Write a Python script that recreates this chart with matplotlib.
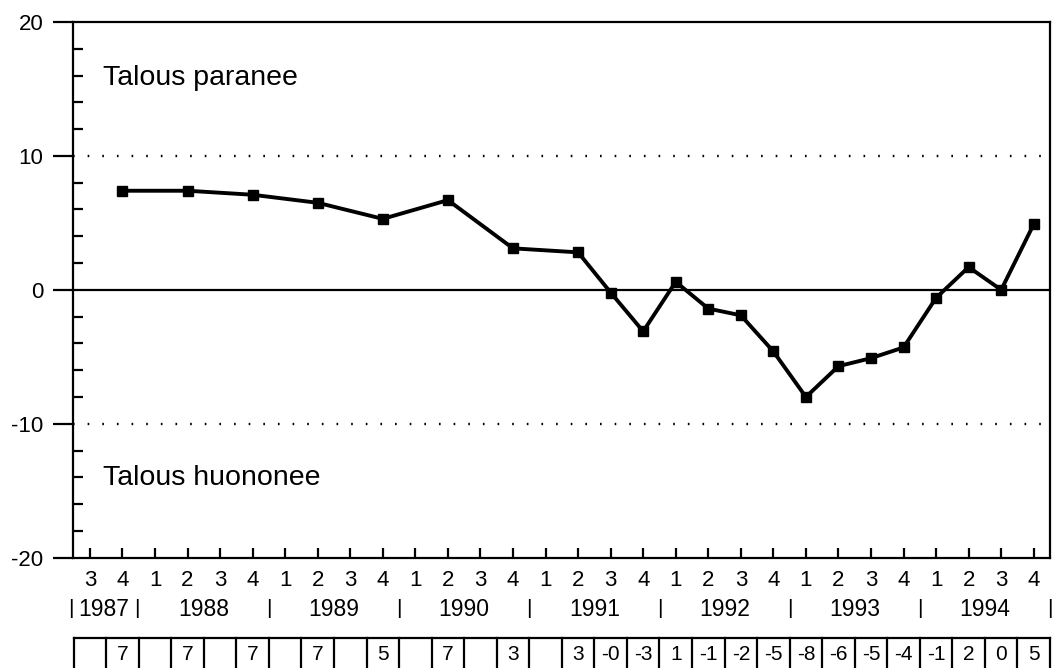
import matplotlib
matplotlib.use("Agg")
from matplotlib import pyplot as plt
from matplotlib import transforms
from matplotlib.ticker import MultipleLocator

plt.rcParams["font.family"] = ["Liberation Sans", "DejaVu Sans"]
plt.rcParams["axes.unicode_minus"] = False

# quarters on the x axis, 1987Q3 .. 1994Q4
periods = [f"{y}Q{q}" for y in range(1987, 1995) for q in range(1, 5)][2:]
quarter_labels = ["3", "4",
                  "1", "2", "3", "4", "1", "2", "3", "4", "1", "2", "3", "4",
                  "1", "2", "3", "4", "1", "2", "3", "4", "1", "2", "3", "4",
                  "1", "2", "3", "4"]
years = ["1987", "1988", "1989", "1990", "1991", "1992", "1993", "1994"]

# balance figures (observed only in some quarters early on)
point_periods = ["1987Q4", "1988Q2", "1988Q4", "1989Q2", "1989Q4", "1990Q2",
                 "1990Q4", "1991Q2", "1991Q3", "1991Q4", "1992Q1", "1992Q2",
                 "1992Q3", "1992Q4", "1993Q1", "1993Q2", "1993Q3", "1993Q4",
                 "1994Q1", "1994Q2", "1994Q3", "1994Q4"]
balance = [7.4, 7.4, 7.1, 6.5, 5.3, 6.7, 3.1, 2.8, -0.2, -3.1, 0.6, -1.4,
           -1.9, -4.6, -8.0, -5.7, -5.1, -4.3, -0.6, 1.7, 0.0, 4.9]

# numbers printed in the box row under the chart
table_labels = ["", "7", "", "7", "", "7", "", "7", "", "5", "", "7", "", "3",
                "", "3", "-0", "-3", "1", "-1", "-2", "-5", "-8", "-6", "-5",
                "-4", "-1", "2", "0", "5"]

W, H = 1052, 668
fig = plt.figure(figsize=(W / 100, H / 100), dpi=100)
left, right, top, bottom = 73, 1050, 22, 557.7
ax = fig.add_axes([left / W, 1 - bottom / H, (right - left) / W, (bottom - top) / H])

x = [periods.index(p) for p in point_periods]
ax.plot(x, balance, color="black", lw=2.8, marker="s", markersize=7.5,
        zorder=5, clip_on=False)

ax.axhline(0, color="black", lw=1.6)
for yv in (10, -10):
    ax.axhline(yv, color="black", lw=1.7, ls=(0, (0.7, 5.5)))

ax.set_xlim(-0.52, 29.5)
ax.set_ylim(-20, 20)

for s in ax.spines.values():
    s.set_linewidth(1.6)

ax.yaxis.set_major_locator(MultipleLocator(10))
ax.yaxis.set_minor_locator(MultipleLocator(2))
ax.tick_params(axis="y", which="major", direction="out", length=14.5, width=1.6,
               pad=7, labelsize=16)
ax.tick_params(axis="y", which="minor", direction="in", length=7.5, width=1.6)
ax.set_xticks(range(len(periods)))
ax.set_xticklabels(quarter_labels)
ax.tick_params(axis="x", direction="in", length=7.5, width=1.6, pad=9,
               labelsize=16)

ttr = transforms.blended_transform_factory(ax.transAxes, ax.transData)
ax.text(0.031, 15.3, "Talous paranee", transform=ttr, fontsize=20.5, va="baseline")
ax.text(0.031, -14.55, "Talous huononee", transform=ttr, fontsize=20.5, va="baseline")

tr = transforms.blended_transform_factory(ax.transData, ax.transAxes)


def ay(py):
    return (bottom - py) / (bottom - top)


# year row
year_y = ay(609)
seps = [-0.6, 1.45, 5.5, 9.5, 13.5, 17.5, 21.5, 25.5, 29.5]
for sx in seps:
    ax.text(sx, year_y, "|", transform=tr, ha="center", va="center",
            fontsize=15, clip_on=False)
for i, yr in enumerate(years):
    cx = 0.42 if i == 0 else 3.5 + 4 * (i - 1)
    ax.text(cx, year_y, yr, transform=tr, ha="center", va="center",
            fontsize=16.5, clip_on=False)

# box row
t_top, t_bot = ay(638), ay(672)
ax.plot([-0.5, 29.5], [t_top, t_top], color="black", lw=1.6, transform=tr,
        clip_on=False)
for i in range(len(periods) + 1):
    ax.plot([i - 0.5, i - 0.5], [t_top, t_bot], color="black", lw=1.6,
            transform=tr, clip_on=False)
for i, lab in enumerate(table_labels):
    ax.text(i, ay(655), lab, transform=tr, ha="center", va="center",
            fontsize=15, clip_on=False)

fig.savefig("out.png", dpi=100, facecolor="white")
